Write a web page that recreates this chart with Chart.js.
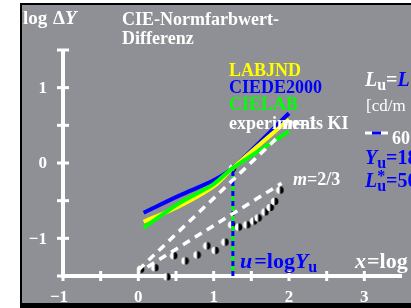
<!DOCTYPE html>
<html>
<head>
<meta charset="utf-8">
<script src="https://cdn.jsdelivr.net/npm/chart.js@4.4.1/dist/chart.umd.min.js"></script>
<style>
  html, body { margin: 0; padding: 0; background: #fff; }
  #wrap { width: 411px; height: 308px; }
</style>
</head>
<body>
<div id="wrap"><canvas id="chart" width="411" height="308"></canvas></div>
<script>
// --- DADOS ---
const cieX      = [0.07, 0.55, 1.0, 1.25, 2.0];
const ciede2000 = [-0.66, -0.43, -0.23, -0.07, 0.66];
const labjnd    = [-0.78, -0.57, -0.31, -0.07, 0.58];
const cielab    = [-0.86, -0.53, -0.28, -0.07, 0.42];

const m1X  = [0.0, 1.88];
const m1Y  = [-1.42, 0.37];
const m23X = [0.12, 1.90];
const m23Y = [-1.38, -0.27];

const expX = [0.03, 0.22, 0.38, 0.47, 0.62, 0.78, 0.91, 1.02, 1.15, 1.24, 1.33, 1.44, 1.53, 1.59, 1.68, 1.75, 1.81, 1.88, 1.25];
const expY = [-1.41, -1.39, -1.51, -1.23, -1.30, -1.22, -1.10, -1.16, -1.05, -0.82, -0.85, -0.82, -0.77, -0.73, -0.65, -0.59, -0.51, -0.36, -0.07];

const uLine = 1.255;           // u = log Yu, Yu = 18
const uLineY = [-1.5, -0.07];

const xTicks = [-1, -0.5, 0, 0.5, 1, 1.5, 2, 2.5, 3];
const yTicks = [-1.5, -1, -0.5, 0, 0.5, 1, 1.5];
const xLabels = ['−1', '0', '1', '2', '3'];
const yLabels = ['−1', '0', '1'];

const SERIF = "'Liberation Serif', 'DejaVu Serif', serif";
const BLUE = '#0000ff', YELLOW = '#ffff00', GREEN = '#00ff00', WHITE = '#ffffff';

const zip = (xs, ys) => xs.map((x, i) => ({ x, y: ys[i] }));

// marcador: meio círculo branco (esquerda) e preto (direita)
function makeMarker() {
    const c = document.createElement('canvas');
    c.width = 9; c.height = 9;
    const g = c.getContext('2d');
    g.fillStyle = '#fff';
    g.beginPath(); g.arc(4.5, 4.5, 3.8, Math.PI / 2, Math.PI * 1.5); g.fill();
    g.fillStyle = '#000';
    g.beginPath(); g.arc(4.5, 4.5, 3.8, -Math.PI / 2, Math.PI / 2); g.fill();
    return c;
}

function runs(ctx, x, y, parts) {
    parts.forEach(p => {
        ctx.font = p.font;
        ctx.fillStyle = p.color;
        ctx.fillText(p.text, x, y + (p.dy || 0));
        x += ctx.measureText(p.text).width + (p.gap || 0);
    });
}

const framePlugin = {
    id: 'frame',
    beforeDraw(chart) {
        const ctx = chart.ctx;
        ctx.save();
        ctx.fillStyle = '#fff';
        ctx.fillRect(0, 0, 411, 308);
        ctx.fillStyle = '#000';
        ctx.fillRect(20, 3, 391, 305);
        ctx.fillStyle = '#8f9095';
        ctx.fillRect(22, 5, 389, 298);
        ctx.restore();
    },
    beforeDatasetsDraw(chart) {
        const ctx = chart.ctx;
        const xs = chart.scales.x, ys = chart.scales.y;
        const x0 = xs.getPixelForValue(-1), y0 = ys.getPixelForValue(-1.5);
        ctx.save();
        ctx.strokeStyle = WHITE;
        ctx.lineWidth = 4;
        ctx.beginPath();
        ctx.moveTo(x0, ys.getPixelForValue(1.5));
        ctx.lineTo(x0, y0);
        ctx.lineTo(xs.getPixelForValue(3.5), y0);
        ctx.stroke();
        ctx.lineWidth = 3;
        yTicks.forEach(v => {
            const p = ys.getPixelForValue(v);
            ctx.beginPath(); ctx.moveTo(x0 - 6, p); ctx.lineTo(x0 + 6, p); ctx.stroke();
        });
        xTicks.forEach(v => {
            const p = xs.getPixelForValue(v);
            ctx.beginPath(); ctx.moveTo(p, y0 - 5); ctx.lineTo(p, y0 + 5); ctx.stroke();
        });

        // rótulos dos eixos
        ctx.fillStyle = WHITE;
        ctx.font = 'bold 17px ' + SERIF;
        ctx.textAlign = 'right';
        ctx.textBaseline = 'middle';
        yLabels.forEach((t, i) => ctx.fillText(t, 47, ys.getPixelForValue(i - 1) + 1));
        ctx.textAlign = 'center';
        ctx.textBaseline = 'alphabetic';
        xLabels.forEach((t, i) => ctx.fillText(t, xs.getPixelForValue(i - 1) - (i === 0 ? 4 : 0), 302));
        ctx.restore();
    },
    afterDraw(chart) {
        const ctx = chart.ctx;
        ctx.save();
        ctx.textAlign = 'left';
        ctx.textBaseline = 'alphabetic';
        const b = 'bold 18px ' + SERIF, bi = 'italic bold 18px ' + SERIF;

        runs(ctx, 23, 24, [{ text: 'log ', font: 'bold 19px ' + SERIF, color: WHITE, gap: 1 }, { text: 'Δ', font: 'bold 19px ' + SERIF, color: WHITE },
            { text: 'Y', font: 'italic bold 19px ' + SERIF, color: WHITE }]);
        runs(ctx, 122, 25, [{ text: 'CIE-Normfarbwert-', font: b, color: WHITE }]);
        runs(ctx, 122, 44, [{ text: 'Differenz', font: b, color: WHITE }]);

        // legenda
        runs(ctx, 229, 76, [{ text: 'LABJND', font: b, color: YELLOW }]);
        runs(ctx, 229, 93, [{ text: 'CIEDE2000', font: b, color: BLUE }]);
        runs(ctx, 229, 110, [{ text: 'CIELAB', font: b, color: GREEN }]);
        runs(ctx, 229, 129, [{ text: 'experiments KI', font: b, color: WHITE }]);
        runs(ctx, 284, 129, [{ text: 'm', font: 'italic bold 18px ' + SERIF, color: WHITE }, { text: '=1', font: 'bold 18px ' + SERIF, color: WHITE }]);
        runs(ctx, 293, 185, [{ text: 'm', font: 'italic bold 18px ' + SERIF, color: WHITE }, { text: '=2/3', font: 'bold 18px ' + SERIF, color: WHITE }]);

        // rótulos u e x
        const big = 'bold 22px ' + SERIF, bigI = 'italic bold 22px ' + SERIF, sub = 'bold 16px ' + SERIF;
        runs(ctx, 240, 268, [
            { text: 'u', font: bigI, color: BLUE, gap: 2 }, { text: '=log', font: big, color: BLUE },
            { text: 'Y', font: bigI, color: BLUE }, { text: 'u', font: sub, color: BLUE, dy: 4 }
        ]);
        runs(ctx, 355, 268, [{ text: 'x', font: bigI, color: WHITE, gap: 1 }, { text: '=log', font: big, color: WHITE }]);

        // painel da direita
        const rb = 'bold 20px ' + SERIF, rbi = 'italic bold 20px ' + SERIF;
        runs(ctx, 365, 86, [
            { text: 'L', font: rbi, color: WHITE }, { text: 'u', font: sub, color: WHITE, dy: 4 },
            { text: '=', font: rb, color: WHITE }, { text: 'L', font: rbi, color: BLUE }
        ]);
        runs(ctx, 366, 111, [{ text: '[cd/m', font: '17px ' + SERIF, color: WHITE }]);
        ctx.lineWidth = 3;
        ctx.strokeStyle = WHITE;
        ctx.beginPath(); ctx.moveTo(365, 133); ctx.lineTo(388, 133); ctx.stroke();
        ctx.strokeStyle = BLUE;
        ctx.beginPath(); ctx.moveTo(372, 133); ctx.lineTo(381, 133); ctx.stroke();
        runs(ctx, 392, 144, [{ text: '60', font: 'bold 18px ' + SERIF, color: WHITE }]);
        runs(ctx, 365, 164, [
            { text: 'Y', font: rbi, color: BLUE }, { text: 'u', font: sub, color: BLUE, dy: 4 },
            { text: '=18', font: rb, color: BLUE }
        ]);
        runs(ctx, 365, 187, [
            { text: 'L', font: rbi, color: BLUE }, { text: '*', font: sub, color: BLUE, dy: -6, gap: -8 },
            { text: 'u', font: sub, color: BLUE, dy: 4 }, { text: '=50', font: rb, color: BLUE }
        ]);
        ctx.restore();
    }
};

const lineDs = (label, ys, color) => ({
    label, data: zip(cieX, ys), borderColor: color, borderWidth: 4,
    pointRadius: 0, tension: 0.3, fill: false
});

new Chart(document.getElementById('chart'), {
    type: 'line',
    data: {
        datasets: [
            { label: 'm=1', data: zip(m1X, m1Y), borderColor: WHITE, borderWidth: 3.5, borderDash: [8, 6], pointRadius: 0 },
            { label: 'm=2/3', data: zip(m23X, m23Y), borderColor: WHITE, borderWidth: 3.5, borderDash: [8, 6], pointRadius: 0 },
            lineDs('CIELAB', cielab, GREEN),
            lineDs('LABJND', labjnd, YELLOW),
            lineDs('CIEDE2000', ciede2000, BLUE),
            { label: 'u blue', data: zip([uLine, uLine], uLineY), borderColor: BLUE, borderWidth: 3, borderDash: [5, 5], pointRadius: 0, clip: false },
            { label: 'u green', data: zip([uLine, uLine], uLineY), borderColor: GREEN, borderWidth: 3, borderDash: [5, 5], borderDashOffset: 5, pointRadius: 0, clip: false },
            { label: 'experiments', data: zip(expX, expY), showLine: false, pointStyle: makeMarker(), pointRadius: 4, clip: false }
        ]
    },
    options: {
        responsive: false,
        animation: false,
        devicePixelRatio: 1,
        layout: { padding: { left: 63, right: 9, top: 50, bottom: 32 } },
        scales: {
            x: { type: 'linear', min: -1, max: 3.5, display: false },
            y: { type: 'linear', min: -1.5, max: 1.5, display: false }
        },
        plugins: { legend: { display: false }, tooltip: { enabled: false } }
    },
    plugins: [framePlugin]
});
</script>
</body>
</html>
